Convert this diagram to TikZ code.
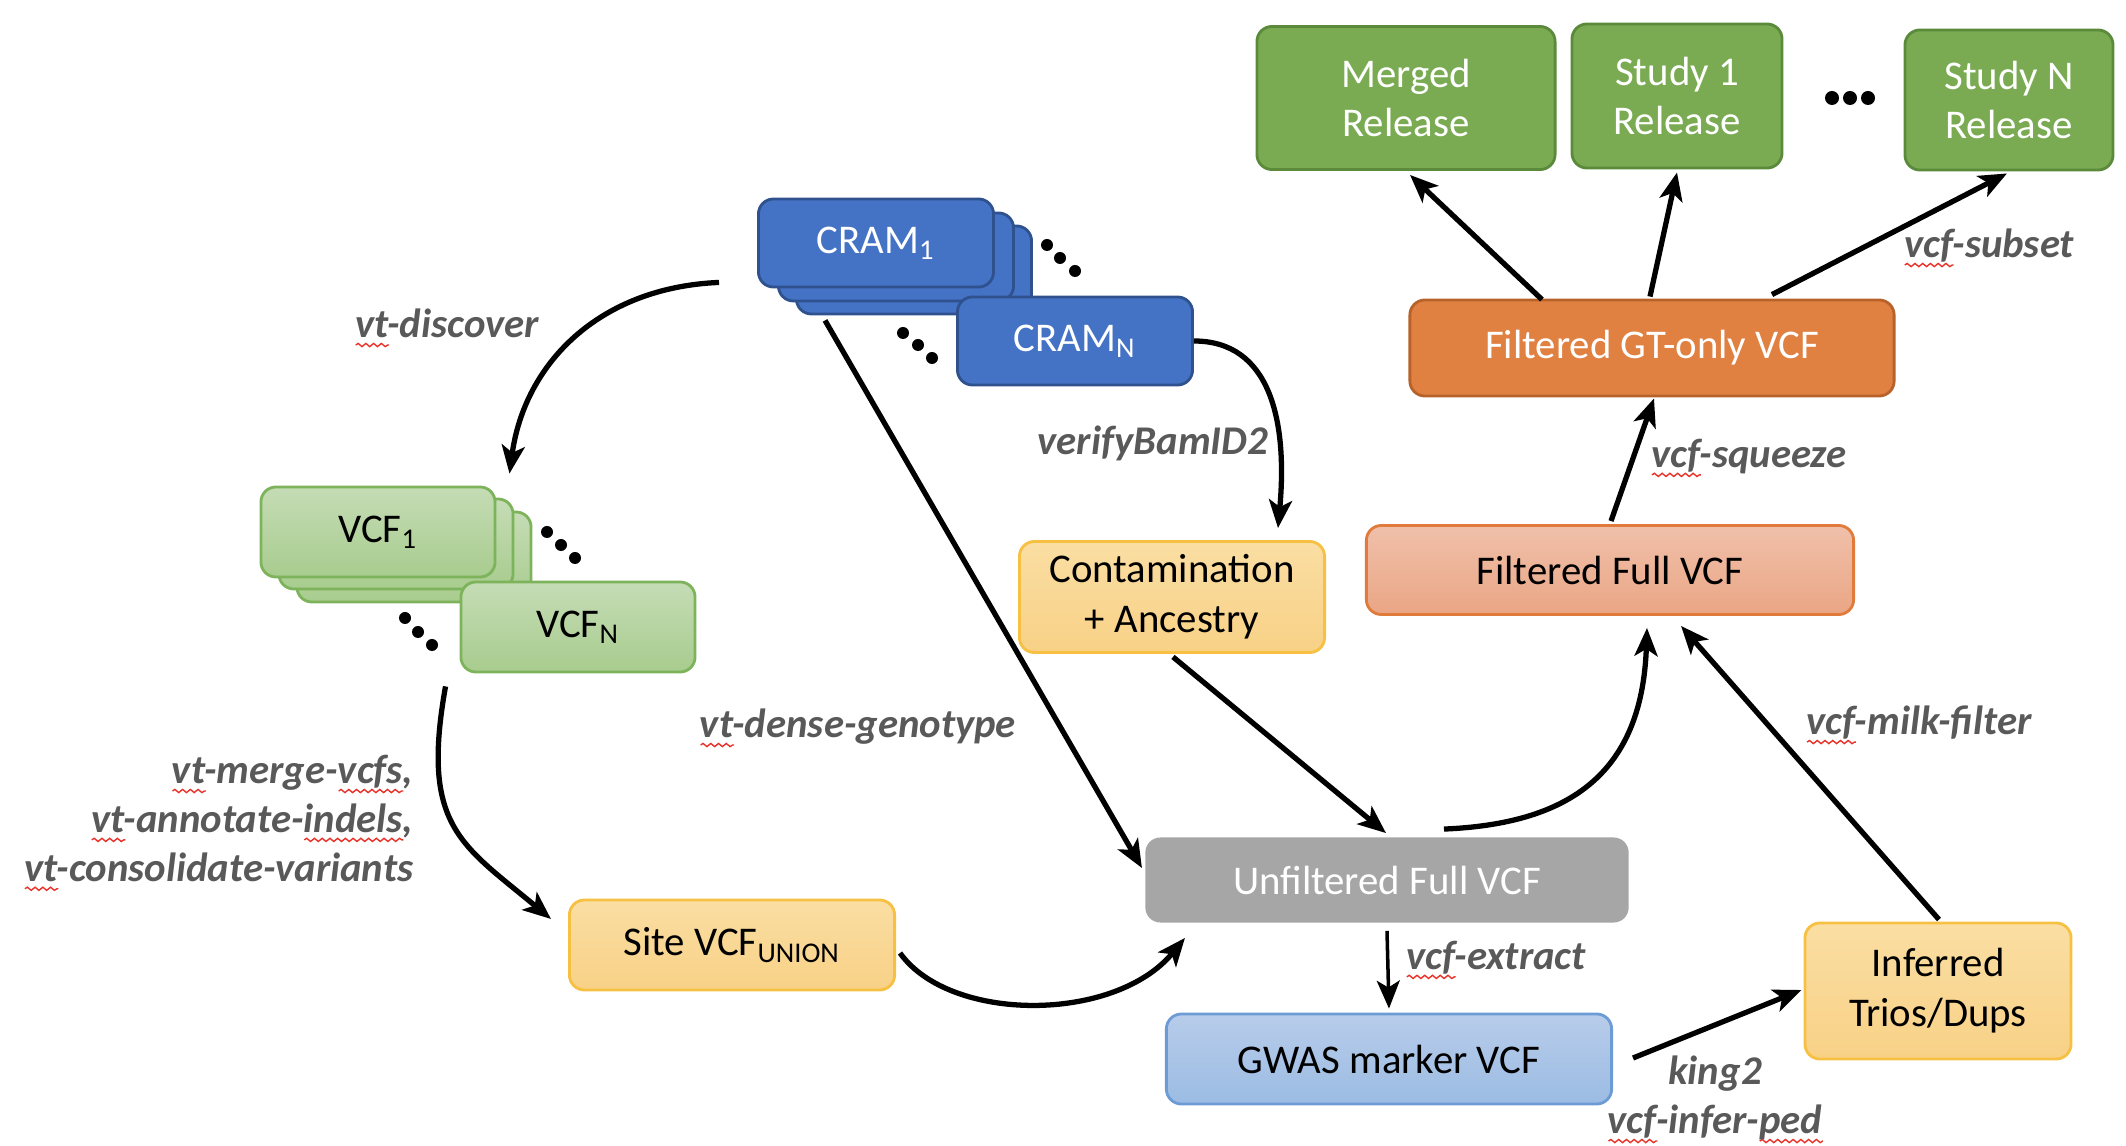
\documentclass[tikz,border=0pt]{standalone}
\usepackage{fontspec}
\setmainfont{Carlito}
\usepackage{tikz}
\usetikzlibrary{arrows.meta,calc,decorations.pathmorphing}
\definecolor{cramblue}{HTML}{4472C4}
\definecolor{cramedge}{HTML}{2F528F}
\definecolor{vcftop}{HTML}{C5DCB5}
\definecolor{vcfbot}{HTML}{A8CC8E}
\definecolor{vcfedge}{HTML}{7DB35A}
\definecolor{relgreen}{HTML}{7AAB53}
\definecolor{reledge}{HTML}{5A8A3A}
\definecolor{gtorange}{HTML}{E08142}
\definecolor{gtedge}{HTML}{B7622A}
\definecolor{fulltop}{HTML}{F0C0AA}
\definecolor{fullbot}{HTML}{EAA685}
\definecolor{fulledge}{HTML}{E07B3C}
\definecolor{yeltop}{HTML}{FADEA3}
\definecolor{yelbot}{HTML}{F8D186}
\definecolor{yeledge}{HTML}{F6C043}
\definecolor{unfgray}{HTML}{A6A6A6}
\definecolor{gwastop}{HTML}{B8CCEA}
\definecolor{gwasbot}{HTML}{9BBCE3}
\definecolor{gwasedge}{HTML}{6D9BD5}
\definecolor{notegray}{HTML}{595959}
\definecolor{spellred}{HTML}{E8332A}
\newcommand\boxfont{\fontsize{11.6}{14.2}\selectfont}
\newcommand\notefont{\fontsize{11.6}{13.9}\selectfont\bfseries\itshape}
\newlength\wavylen
\newcommand\wavy[1]{\settowidth\wavylen{#1}\rlap{\tikz[x=1pt,y=1pt,baseline=0pt]\draw[spellred,line width=0.4pt,decorate,decoration={snake,amplitude=0.45pt,segment length=2.2pt}] (0pt,-2.2pt) -- (\wavylen,-2.2pt);}#1}
\tikzset{box/.style={rounded corners=0.15cm,align=center,font=\boxfont,inner sep=2pt,line width=0.8pt},arr/.style={-{Stealth[length=0.28cm,width=0.23cm,inset=0.07cm]},line width=1.5pt},note/.style={font=\notefont,text=notegray,inner sep=0pt,align=center}}

\begin{document}
\begin{tikzpicture}[x=0.01cm,y=-0.01cm,cram/.style={box,fill=cramblue,draw=cramedge,text=white,minimum width=2.35cm,minimum height=0.88cm},vcf/.style={box,top color=vcftop,bottom color=vcfbot,draw=vcfedge,minimum width=2.34cm,minimum height=0.9cm},rel/.style={box,fill=relgreen,draw=reledge,text=white},yel/.style={box,top color=yeltop,bottom color=yelbot,draw=yeledge}]
\useasboundingbox (0,0) rectangle (2126,1146);
% sample stacks
\node[cram] (cramc) at (914,270) {};
\node[cram] (cramb) at (896,257) {};
\node[cram] (crama) at (876,243) {CRAM\textsubscript{1}};
\node[cram] (cramn) at (1075,341) {CRAM\textsubscript{N}};
\node[vcf] (vcfc) at (414,557) {};
\node[vcf] (vcfb) at (396,544) {};
\node[vcf] (vcfa) at (378,532) {VCF\textsubscript{1}};
\node[vcf] (vcfn) at (578,627) {VCF\textsubscript{N}};
\foreach \x/\y in {1047/245,1060/258,1075/271,903/333,918/345,932/358,547/532,561/545,575/558,405/618,418/632,432/645}{\fill (\x,\y) circle (0.06cm);}
\foreach \x in {1832,1850,1868}{\fill (\x,98) circle (0.07cm);}
% pipeline boxes
\node[yel,minimum width=3.05cm,minimum height=1.11cm] (contam) at (1172,597) {Contamination\\+ Ancestry};
\node[box,fill=unfgray,text=white,minimum width=4.83cm,minimum height=0.85cm] (unfilt) at (1387,880) {Unfiltered Full VCF};
\node[yel,minimum width=3.25cm,minimum height=0.9cm] (site) at (732,945) {Site VCF\textsubscript{UNION}};
\node[box,top color=gwastop,bottom color=gwasbot,draw=gwasedge,minimum width=4.45cm,minimum height=0.9cm] (gwas) at (1389,1059) {GWAS marker VCF};
\node[yel,minimum width=2.66cm,minimum height=1.36cm] (inferred) at (1938,991) {Inferred\\Trios/Dups};
\node[box,top color=fulltop,bottom color=fullbot,draw=fulledge,minimum width=4.87cm,minimum height=0.89cm] (filtfull) at (1610,570) {Filtered Full VCF};
\node[box,fill=gtorange,draw=gtedge,text=white,minimum width=4.84cm,minimum height=0.96cm] (gt) at (1652,348) {Filtered GT-only VCF};
\node[rel,minimum width=2.98cm,minimum height=1.43cm] (merged) at (1406,98) {Merged\\Release};
\node[rel,minimum width=2.1cm,minimum height=1.44cm] (study1) at (1677,96) {Study 1\\Release};
\node[rel,minimum width=2.08cm,minimum height=1.4cm] (studyn) at (2009,100) {Study N\\Release};
% tool labels
\node[note] (ldisc) at (447,328) {\wavy{vt}-discover};
\node[note] (lverify) at (1153,443) {verifyBamID2};
\node[note] (ldense) at (858,728) {\wavy{vt}-dense-genotype};
\node[note,align=right,anchor=east] (lmerge) at (414,823) {\wavy{vt}-merge-\wavy{vcfs},\\\wavy{vt}-annotate-\wavy{indels},\\\wavy{vt}-consolidate-variants};
\node[note] (lsubset) at (1989,248) {\wavy{vcf}-subset};
\node[note] (lsqueeze) at (1749,458) {\wavy{vcf}-squeeze};
\node[note] (lmilk) at (1919,725) {\wavy{vcf}-milk-filter};
\node[note] (lextract) at (1496,960) {\wavy{vcf}-extract};
\node[note] (lking) at (1715,1074) {king2};
\node[note] (linfer) at (1715,1124) {\wavy{vcf}-infer-\wavy{ped}};
% connectors
\draw[arr] ($(crama.south west)+(-38,-6)$) .. controls +(-120,5) and +(15,-110) .. ($(vcfa.north east)+(13,-12)$);
\draw[arr] (cramn.east) .. controls +(75,0) and +(10,-110) .. ($(contam.north east)+(-48,-12)$);
\draw[arr] ($(cramc.south west)+(30,5)$) -- ($(unfilt.west)+(-2,-12)$);
\draw[arr] ($(contam.south)+(1,3)$) -- ($(unfilt.north)+(-1,-3)$);
\draw[arr] ($(vcfn.south west)+(-14,13)$) .. controls +(-25,140) and +(-90,-75) .. ($(site.west)+(-17,-26)$);
\draw[arr] ($(site.east)+(4,8)$) .. controls +(50,70) and +(-70,85) .. ($(unfilt.south west)+(41,14)$);
\draw[arr] ($(unfilt.north)+(57,-7)$) .. controls +(120,-5) and +(-5,150) .. ($(filtfull.south)+(37,12)$);
\draw[arr,line width=1pt] ($(unfilt.south)+(0,7)$) -- ($(gwas.north)+(0,-4)$);
\draw[arr] ($(gwas.east)+(20,-1)$) -- ($(inferred.west)+(-2,-1)$);
\draw[arr] ($(inferred.north)+(1,-2)$) -- ($(filtfull.south)+(71,10)$);
\draw[arr] ($(filtfull.north)+(1,-3)$) -- ($(gt.south)+(2,1)$);
\draw[arr] ($(gt.north)+(-110,1)$) -- ($(merged.south)+(4,4)$);
\draw[arr] ($(gt.north)+(-2,-2)$) -- ($(study1.south)+(0,3)$);
\draw[arr] ($(gt.north)+(120,-4)$) -- ($(studyn.south)+(-2,2)$);
\end{tikzpicture}
\end{document}
